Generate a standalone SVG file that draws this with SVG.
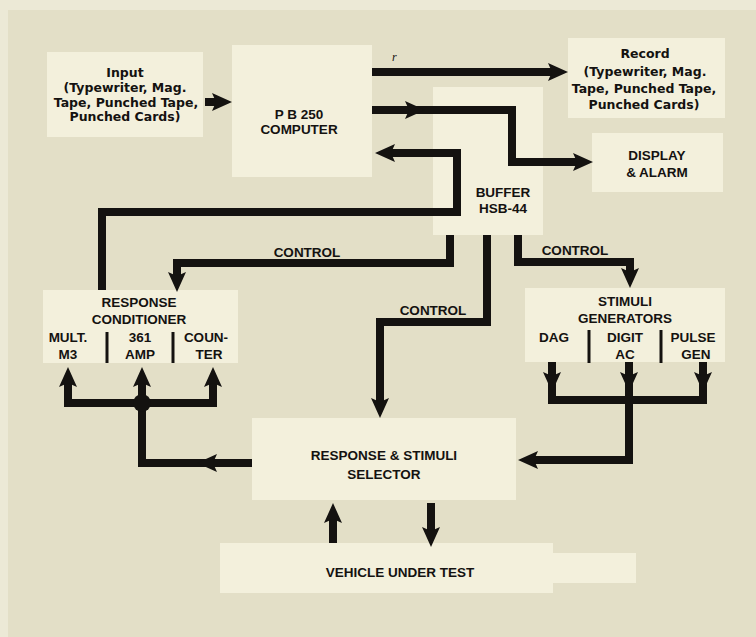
<svg xmlns="http://www.w3.org/2000/svg" xmlns:xlink="http://www.w3.org/1999/xlink" width="756" height="637" viewBox="0 0 756 637">
<style>
.bg{fill:#e3dfc7}
.box{fill:#f3f0dc}
.t{font-family:"Liberation Sans",Arial,sans-serif;font-weight:bold;font-size:13.5px;fill:#141210;text-anchor:middle}
.m{font-family:"DejaVu Sans","Liberation Sans",sans-serif;font-size:12.5px}
.ln{fill:none;stroke:#141210;stroke-width:8;stroke-linejoin:miter;stroke-linecap:butt}
.div{stroke:#141210;stroke-width:3}
.ah{fill:#141210}
</style>
<defs>
<path id="ah" d="M-20,-9 L0,0 L-20,9 L-16,0 Z"/>
</defs>
<rect class="bg" x="0" y="0" width="756" height="637"/>
<rect x="0" y="0" width="756" height="10" fill="#ece9d6"/>
<rect x="0" y="0" width="8" height="637" fill="#ece9d6"/>

<g id="input"><rect class="box" x="47" y="52" width="156" height="85"/>
<text class="t m" x="125" y="77">Input</text>
<text class="t m" x="125" y="92">(Typewriter, Mag.</text>
<text class="t m" x="126" y="107">Tape, Punched Tape,</text>
<text class="t m" x="125" y="121">Punched Cards)</text></g>

<g id="computer"><rect class="box" x="232" y="45" width="140" height="132"/>
<text class="t" x="299" y="119" font-size="14">P B 250</text>
<text class="t" x="299" y="134" font-size="14">COMPUTER</text></g>

<g id="record"><rect class="box" x="568" y="38" width="157" height="80"/>
<text class="t m" x="645" y="58">Record</text>
<text class="t m" x="645" y="76">(Typewriter, Mag.</text>
<text class="t m" x="644" y="93">Tape, Punched Tape,</text>
<text class="t m" x="644" y="109">Punched Cards)</text></g>

<g id="buffer"><rect class="box" x="433" y="87" width="110" height="148"/>
<text class="t" x="503" y="197">BUFFER</text>
<text class="t" x="503" y="213">HSB-44</text></g>

<g id="display"><rect class="box" x="592" y="133" width="131" height="59"/>
<text class="t" x="657" y="160">DISPLAY</text>
<text class="t" x="657" y="177">&amp; ALARM</text></g>

<g id="conditioner"><rect class="box" x="43" y="290" width="195" height="73"/>
<text class="t" x="139" y="307" font-size="13">RESPONSE</text>
<text class="t" x="139" y="324" font-size="13">CONDITIONER</text>
<text class="t" x="68" y="342" font-size="13">MULT.</text>
<text class="t" x="68" y="359" font-size="13">M3</text>
<text class="t" x="140" y="342" font-size="13">361</text>
<text class="t" x="140" y="359" font-size="13">AMP</text>
<text class="t" x="206" y="342" font-size="13">COUN-</text>
<text class="t" x="209" y="359" font-size="13">TER</text>
<line class="div" x1="107" y1="332" x2="107" y2="363"/>
<line class="div" x1="173" y1="332" x2="173" y2="363"/></g>

<g id="stimuli"><rect class="box" x="525" y="288" width="200" height="74"/>
<text class="t" x="625" y="306" font-size="13">STIMULI</text>
<text class="t" x="625" y="323" font-size="13">GENERATORS</text>
<text class="t" x="554" y="342" font-size="13">DAG</text>
<text class="t" x="625" y="342" font-size="13">DIGIT</text>
<text class="t" x="625" y="359" font-size="13">AC</text>
<text class="t" x="693" y="342" font-size="13">PULSE</text>
<text class="t" x="696" y="359" font-size="13">GEN</text>
<line class="div" x1="589" y1="330" x2="589" y2="363"/>
<line class="div" x1="661" y1="330" x2="661" y2="363"/></g>

<g id="selector"><rect class="box" x="252" y="418" width="264" height="82"/>
<text class="t" x="384" y="460">RESPONSE &amp; STIMULI</text>
<text class="t" x="384" y="479">SELECTOR</text></g>

<g id="vehicle"><path class="box" d="M220,543 H553 V553 H636 V583 H553 V593 H220 Z"/>
<text class="t" x="400" y="577">VEHICLE UNDER TEST</text></g>

<g id="connectors">
<path class="ln" d="M205,102 H216"/>
<use xlink:href="#ah" class="ah" transform="translate(232,102)"/>
<path class="ln" d="M372,72 H552"/>
<use xlink:href="#ah" class="ah" transform="translate(568,72)"/>
<path class="ln" d="M372,110 H512 V162 H577"/>
<use xlink:href="#ah" class="ah" transform="translate(425,110)"/>
<use xlink:href="#ah" class="ah" transform="translate(593,162)"/>
<path class="ln" d="M102,290 V212 H457 V153 H391"/>
<use xlink:href="#ah" class="ah" transform="translate(375,153) rotate(180)"/>
<path class="ln" d="M450,235 V263 H177 V276"/>
<use xlink:href="#ah" class="ah" transform="translate(177,292) rotate(90)"/>
<path class="ln" d="M487,235 V322 H380 V402"/>
<use xlink:href="#ah" class="ah" transform="translate(380,418) rotate(90)"/>
<path class="ln" d="M518,235 V262 H630 V272"/>
<use xlink:href="#ah" class="ah" transform="translate(630,288) rotate(90)"/>
<path class="ln" d="M252,463 H142 V383"/>
<path class="ln" d="M68,383 V403 H213 V383"/>
<circle cx="142" cy="403" r="9" class="ah"/>
<use xlink:href="#ah" class="ah" transform="translate(68,367) rotate(-90)"/>
<use xlink:href="#ah" class="ah" transform="translate(142,367) rotate(-90)"/>
<use xlink:href="#ah" class="ah" transform="translate(213,367) rotate(-90)"/>
<use xlink:href="#ah" class="ah" transform="translate(197,463) rotate(180)"/>
<path class="ln" d="M552,362 V404 M629,362 V404 M703,362 V404 M548,400 H707"/>
<use xlink:href="#ah" class="ah" transform="translate(552,392) rotate(90)"/>
<use xlink:href="#ah" class="ah" transform="translate(629,392) rotate(90)"/>
<use xlink:href="#ah" class="ah" transform="translate(703,392) rotate(90)"/>
<path class="ln" d="M629,400 V460 H534"/>
<use xlink:href="#ah" class="ah" transform="translate(518,460) rotate(180)"/>
<path class="ln" d="M333,543 V519"/>
<use xlink:href="#ah" class="ah" transform="translate(333,503) rotate(-90)"/>
<path class="ln" d="M431,503 V531"/>
<use xlink:href="#ah" class="ah" transform="translate(431,547) rotate(90)"/>
</g>
<g id="labels">
<text class="t" x="307" y="257">CONTROL</text>
<text class="t" x="433" y="315">CONTROL</text>
<text class="t" x="575" y="255">CONTROL</text>
<text x="392" y="61" font-family="Liberation Serif,serif" font-style="italic" font-size="12" fill="#141210">r</text>
</g>
</svg>
